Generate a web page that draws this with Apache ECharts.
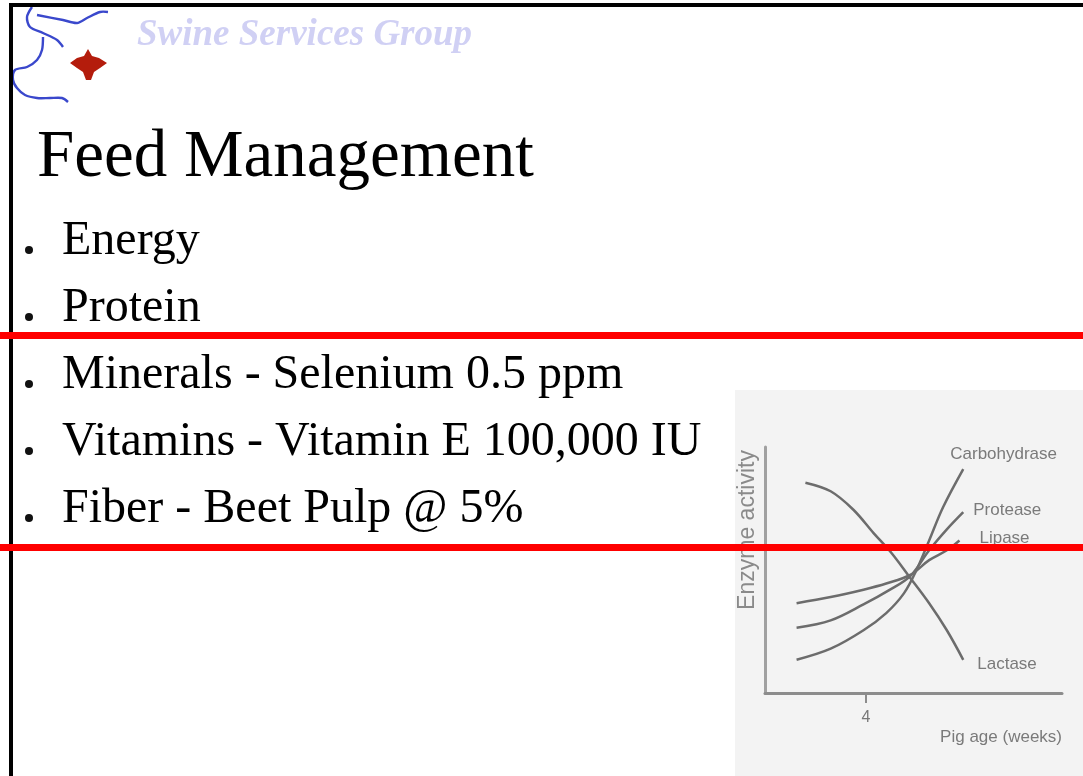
<!DOCTYPE html>
<html>
<head>
<meta charset="utf-8">
<script src="https://cdn.jsdelivr.net/npm/echarts@6/dist/echarts.min.js"></script>
<style>
html,body{margin:0;padding:0;background:#fff;}
#chart{width:1083px;height:776px;}
</style>
</head>
<body>
<div id="chart"></div>
<script>
// ---- data ----
var seriesNames = ['Carbohydrase', 'Protease', 'Lipase', 'Lactase'];
var carbohydraseWeeks = [1.25, 2.6, 3.9, 4.8, 5.5, 6.0, 6.5, 7.05, 7.85];
var carbohydraseActivity = [1.35, 1.8, 2.55, 3.25, 4.05, 5.0, 6.2, 7.55, 9.1];
var proteaseWeeks = [1.25, 2.6, 3.9, 4.95, 5.75, 6.5, 7.2, 7.85];
var proteaseActivity = [2.65, 2.95, 3.6, 4.2, 4.75, 5.8, 6.65, 7.35];
var lipaseWeeks = [1.25, 2.6, 3.9, 4.8, 5.75, 6.5, 7.2, 7.7];
var lipaseActivity = [3.65, 3.9, 4.2, 4.45, 4.8, 5.4, 5.8, 6.2];
var lactaseWeeks = [1.6, 2.6, 3.5, 4.3, 5.0, 5.7, 6.5, 7.2, 7.85];
var lactaseActivity = [8.55, 8.2, 7.45, 6.5, 5.7, 4.75, 3.65, 2.55, 1.35];
var xTickValues = [4];
var xAxisTitle = 'Pig age (weeks)';
var yAxisTitle = 'Enzyme activity';
var slideTitle = 'Feed Management';
var logoText = 'Swine Services Group';
var bullets = ['Energy', 'Protein', 'Minerals - Selenium 0.5 ppm', 'Vitamins - Vitamin E 100,000 IU', 'Fiber - Beet Pulp @ 5%'];

function pairs(xs, ys) { return xs.map(function (x, i) { return [x, ys[i]]; }); }

var chart = echarts.init(document.getElementById('chart'), null, {renderer: 'canvas'});

var lineColor = '#6c6c6c';
var labelOffsets = {Carbohydrase: [-23, -15], Protease: [0, -2], Lipase: [10, -2], Lactase: [4, 5]};
var seriesData = {
  Carbohydrase: pairs(carbohydraseWeeks, carbohydraseActivity),
  Protease: pairs(proteaseWeeks, proteaseActivity),
  Lipase: pairs(lipaseWeeks, lipaseActivity),
  Lactase: pairs(lactaseWeeks, lactaseActivity)
};

var series = seriesNames.map(function (n) {
  return {
    name: n, type: 'line', smooth: 0.35, symbol: 'none',
    data: seriesData[n],
    lineStyle: {color: lineColor, width: 2.5},
    endLabel: {show: true, formatter: '{a}', color: '#7a7a7a', fontSize: 17,
      fontFamily: 'Liberation Sans', distance: 10, offset: labelOffsets[n]},
    z: 5
  };
});

var graphics = [
  {type: 'rect', z: -10, shape: {x: 735, y: 390, width: 348, height: 386}, style: {fill: '#f3f3f3'}},
  // borders
  {type: 'rect', z: 50, shape: {x: 9, y: 3, width: 1074, height: 4}, style: {fill: '#000'}},
  {type: 'rect', z: 50, shape: {x: 9, y: 3, width: 4, height: 773}, style: {fill: '#000'}},
  // logo curves
  {type: 'polyline', z: 20, shape: {points: [[32,7],[27,17],[30,27],[43,33],[57,40],[63,47]], smooth: 0.3}, style: {stroke: '#3a48cc', lineWidth: 2.4, fill: null}},
  {type: 'polyline', z: 20, shape: {points: [[37,15],[63,20],[77,23],[87,18],[100,12],[108,12]], smooth: 0.3}, style: {stroke: '#3a48cc', lineWidth: 2.4, fill: null}},
  {type: 'polyline', z: 20, shape: {points: [[43,37],[42,50],[37,60],[27,67],[15,70],[13,80],[17,88],[25,95],[37,98],[50,98],[62,98],[68,102]], smooth: 0.3}, style: {stroke: '#3a48cc', lineWidth: 2.4, fill: null}},
  {type: 'polygon', z: 20, shape: {points: [[88,49],[92,56],[99,58],[107,63],[100,68],[94,72],[91,80],[86,80],[83,72],[77,68],[70,63],[77,58],[84,56]]}, style: {fill: '#b41c0c'}},
  {type: 'text', z: 20, style: {text: logoText, x: 137, y: 35, font: 'italic bold 37px "Liberation Serif"', fill: '#d0d0f4', textVerticalAlign: 'middle'}},
  // title
  {type: 'text', z: 20, style: {text: slideTitle, x: 37, y: 158, font: '67px "Liberation Serif"', fill: '#000', textVerticalAlign: 'middle'}},
  // chart texts
  {type: 'text', z: 20, style: {text: xAxisTitle, x: 1062, y: 737, font: '17px "Liberation Sans"', fill: '#7a7a7a', textAlign: 'right', textVerticalAlign: 'middle'}},
  {type: 'text', z: 20, x: 748, y: 530, rotation: Math.PI / 2, style: {text: yAxisTitle, x: 0, y: 0, font: '23px "Liberation Sans"', fill: '#8a8a8a', textAlign: 'center', textVerticalAlign: 'middle'}},
  // red lines
  {type: 'rect', z: 100, shape: {x: 0, y: 332, width: 1083, height: 7}, style: {fill: '#ff0000'}},
  {type: 'rect', z: 100, shape: {x: 0, y: 544, width: 1083, height: 7}, style: {fill: '#ff0000'}}
];

var baseLines = [257, 324, 391, 458, 525];
bullets.forEach(function (b, i) {
  graphics.push({type: 'circle', z: 20, shape: {cx: 29, cy: baseLines[i] - 7, r: 4}, style: {fill: '#111'}});
  graphics.push({type: 'text', z: 20, style: {text: b, x: 62, y: baseLines[i] - 16, font: '48px "Liberation Serif"', fill: '#000', textVerticalAlign: 'middle'}});
});

chart.setOption({
  animation: false,
  backgroundColor: '#fff',
  grid: {left: 765, top: 447, width: 297, height: 246, containLabel: false},
  xAxis: {
    type: 'value', min: 0, max: 11.76,
    axisLine: {show: true, lineStyle: {color: '#8c8c8c', width: 3}},
    axisTick: {show: true, customValues: xTickValues, length: 10, lineStyle: {color: '#8c8c8c', width: 2}},
    axisLabel: {show: true, customValues: xTickValues, margin: 17, color: '#777', fontSize: 16, fontFamily: 'Liberation Sans'},
    splitLine: {show: false}
  },
  yAxis: {
    type: 'value', min: 0, max: 10,
    axisLine: {show: true, lineStyle: {color: '#a0a0a0', width: 3}},
    axisTick: {show: false}, axisLabel: {show: false}, splitLine: {show: false}
  },
  series: series,
  graphic: graphics
});
</script>
</body>
</html>
